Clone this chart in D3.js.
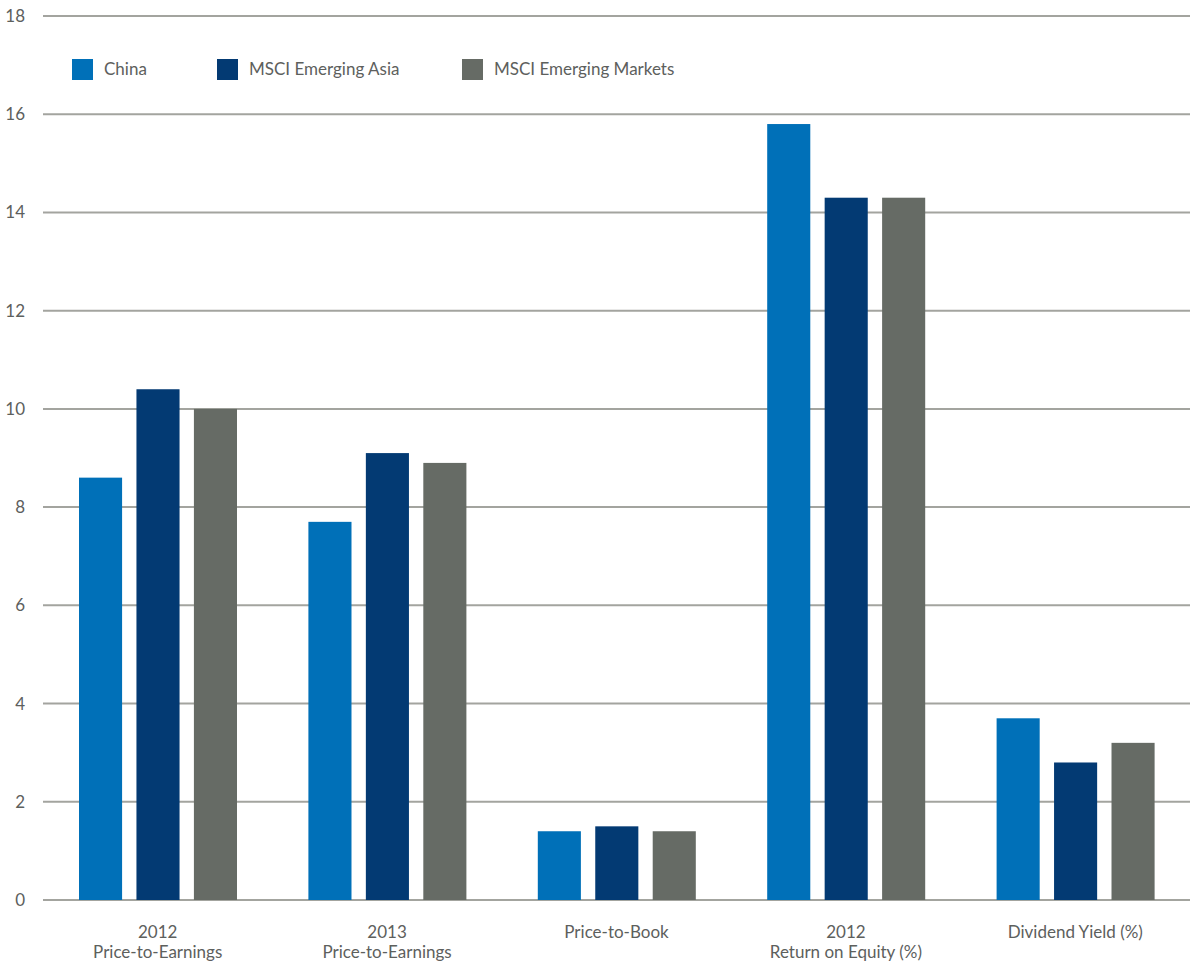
<!DOCTYPE html>
<html>
<head>
<meta charset="utf-8">
<script src="https://cdn.jsdelivr.net/npm/d3@7"></script>
<style>
  html, body { margin: 0; padding: 0; background: #fff; }
  svg { display: block; font-family: "Lato", "Open Sans", sans-serif; }
</style>
</head>
<body>
<svg id="chart" width="1195" height="964"></svg>
<script>
// Valuation metrics by market
const categories = [
  ["2012", "Price-to-Earnings"],
  ["2013", "Price-to-Earnings"],
  ["Price-to-Book"],
  ["2012", "Return on Equity (%)"],
  ["Dividend Yield (%)"]
];
const seriesNames = ["China", "MSCI Emerging Asia", "MSCI Emerging Markets"];
const china = [8.6, 7.7, 1.4, 15.8, 3.7];
const emergingAsia = [10.4, 9.1, 1.5, 14.3, 2.8];
const emergingMarkets = [10.0, 8.9, 1.4, 14.3, 3.2];
const yTicks = [0, 2, 4, 6, 8, 10, 12, 14, 16, 18];
const colors = ["#0070b8", "#033a73", "#666b65"];

const series = [china, emergingAsia, emergingMarkets];

const svg = d3.select("#chart");
const plotLeft = 43, plotRight = 1190, plotTop = 16, plotBottom = 900;
const textColor = "#5d605d";

const x0 = d3.scaleBand()
  .domain(d3.range(categories.length))
  .range([plotLeft, plotRight])
  .paddingInner(0)
  .paddingOuter(0);

const x1 = d3.scaleBand()
  .domain(d3.range(seriesNames.length))
  .range([36, 194])
  .paddingInner(0.25)
  .paddingOuter(0);

const y = d3.scaleLinear().domain([0, 18]).range([plotBottom, plotTop]);

// Gridlines
svg.append("g")
  .selectAll("line")
  .data(yTicks)
  .join("line")
  .attr("x1", plotLeft)
  .attr("x2", plotRight)
  .attr("y1", d => y(d))
  .attr("y2", d => y(d))
  .attr("stroke", "#a3a49f")
  .attr("stroke-width", 2);

// Y tick labels
svg.append("g")
  .selectAll("text")
  .data(yTicks)
  .join("text")
  .attr("x", 25)
  .attr("y", d => y(d) + 6)
  .attr("text-anchor", "end")
  .attr("font-size", 17)
  .attr("fill", textColor)
  .text(d => d);

// Bars
const groups = svg.append("g")
  .selectAll("g")
  .data(categories.map((c, i) => i))
  .join("g")
  .attr("transform", i => `translate(${x0(i)},0)`);

groups.selectAll("rect")
  .data(i => series.map((s, k) => ({ k, v: s[i] })))
  .join("rect")
  .attr("x", d => x1(d.k))
  .attr("width", x1.bandwidth())
  .attr("y", d => y(d.v))
  .attr("height", d => y(0) - y(d.v))
  .attr("fill", d => colors[d.k]);

// Category labels
const labels = svg.append("g")
  .selectAll("text")
  .data(categories)
  .join("text")
  .attr("x", (d, i) => x0(i) + x0.bandwidth() / 2)
  .attr("y", 938)
  .attr("text-anchor", "middle")
  .attr("font-size", 17)
  .attr("fill", textColor);

labels.selectAll("tspan")
  .data(d => d)
  .join("tspan")
  .attr("x", function () { return this.parentNode.getAttribute("x"); })
  .attr("dy", (d, j) => j === 0 ? 0 : 20)
  .text(d => d);

// Legend
const legendX = [72, 217, 462];
const legend = svg.append("g")
  .selectAll("g")
  .data(seriesNames)
  .join("g")
  .attr("transform", (d, i) => `translate(${legendX[i]},59)`);

legend.append("rect")
  .attr("width", 21)
  .attr("height", 21)
  .attr("fill", (d, i) => colors[i]);

legend.append("text")
  .attr("x", 32)
  .attr("y", 16)
  .attr("font-size", 17)
  .attr("fill", textColor)
  .text(d => d);
</script>
</body>
</html>
